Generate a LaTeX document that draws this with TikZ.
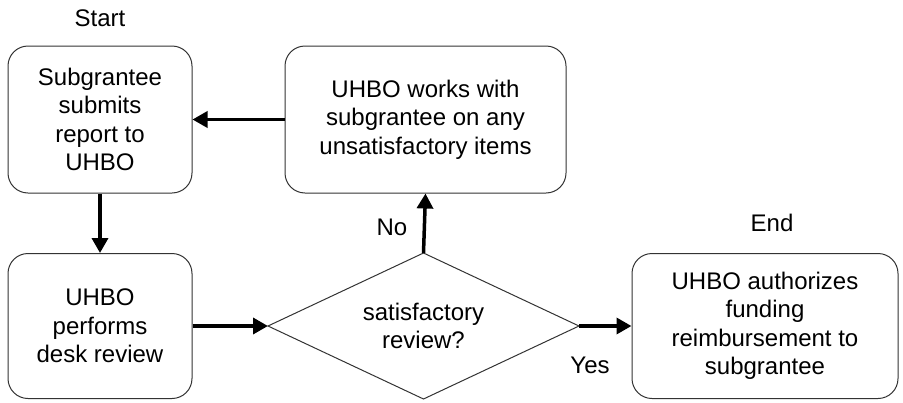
\documentclass[tikz,border=0pt]{standalone}
\usepackage{fontspec}
\setmainfont{Liberation Sans}
\usetikzlibrary{shapes.geometric,arrows.meta}
\begin{document}
\begin{tikzpicture}[x=1pt,y=-1pt,
  box/.style={draw=black!80,line width=1pt,rounded corners=20pt,align=center,inner sep=0pt,
    font=\fontsize{24}{28.5}\selectfont},
  lbl/.style={font=\fontsize{24}{28}\selectfont,inner sep=0pt},
  flow/.style={line width=3.5pt,-{Triangle[length=15pt,width=16pt]}}]
\useasboundingbox (0,0) rectangle (903,402);
\node[box,minimum width=184pt,minimum height=147pt] (sub) at (100,119.5) {Subgrantee\\submits\\report to\\UHBO};
\node[box,minimum width=281pt,minimum height=147pt] (works) at (425.5,119.5) {UHBO works with\\subgrantee on any\\unsatisfactory items};
\node[box,minimum width=184pt,minimum height=145pt] (desk) at (100,326) {UHBO\\performs\\desk review};
\node[box,minimum width=266pt,minimum height=145pt] (auth) at (765,326) {UHBO authorizes\\funding\\reimbursement to\\subgrantee};
\coordinate (dc) at (423.5,326);
\coordinate (dl) at (268,326);
\coordinate (dr) at (579,326);
\coordinate (dt) at (423.5,253);
\coordinate (db) at (423.5,399);
\draw[draw=black!80,line width=1pt] (dl) -- (dt) -- (dr) -- (db) -- cycle;
\node[align=center,font=\fontsize{24}{28.5}\selectfont,inner sep=0pt] (dtext) at (dc) {satisfactory\\review?};
\draw[flow] (works.west) -- (sub.east);
\draw[flow] (sub.south) -- (desk.north);
\draw[flow] (desk.east) -- (dl);
\draw[flow] (dt) -- (works.south);
\draw[flow] (dr) -- (auth.west);
\node[lbl] (start) at (100,18) {Start};
\node[lbl] (end) at (772,223) {End};
\node[lbl] (no) at (392,227) {No};
\node[lbl] (yes) at (590,365) {Yes};
\end{tikzpicture}
\end{document}
